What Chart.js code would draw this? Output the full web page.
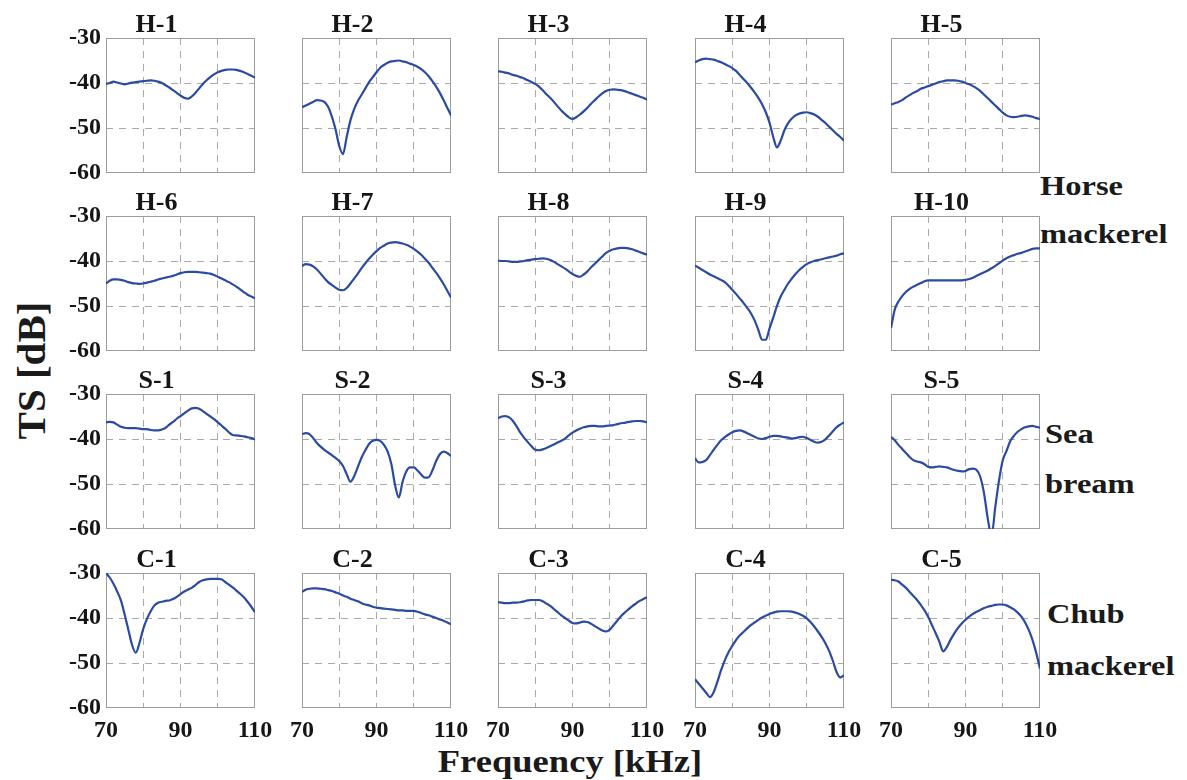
<!DOCTYPE html>
<html>
<head>
<meta charset="utf-8">
<script src="https://cdn.jsdelivr.net/npm/chart.js@4.4.1/dist/chart.umd.min.js"></script>
<style>
  html, body { margin: 0; padding: 0; background: #fff; }
  #fig { position: relative; width: 1187px; height: 780px; overflow: hidden;
         font-family: 'Liberation Serif', 'Times New Roman', serif; font-weight: bold; color: #1a1a1a; }
  #fig canvas { position: absolute; }
  .lbl { position: absolute; white-space: nowrap; line-height: 1; transform-origin: 0 0; }
</style>
</head>
<body>
<div id="fig">
  <div class="lbl" style="left:1040px;top:172px;font-size:28px;transform:scaleX(1.16)">Horse</div>
  <div class="lbl" style="left:1040px;top:220px;font-size:28px;transform:scaleX(1.16)">mackerel</div>
  <div class="lbl" style="left:1045px;top:420px;font-size:28px;transform:scaleX(1.16)">Sea</div>
  <div class="lbl" style="left:1045px;top:470px;font-size:28px;transform:scaleX(1.16)">bream</div>
  <div class="lbl" style="left:1047px;top:600px;font-size:28px;transform:scaleX(1.16)">Chub</div>
  <div class="lbl" style="left:1047px;top:652px;font-size:28px;transform:scaleX(1.16)">mackerel</div>
  <div class="lbl" style="left:270px;top:746px;width:600px;text-align:center;font-size:31px;transform-origin:50% 0;transform:scaleX(1.18)">Frequency [kHz]</div>
  <div class="lbl" style="left:-69px;top:350px;width:200px;text-align:center;font-size:41px;transform-origin:50% 50%;transform:rotate(-90deg)">TS [dB]</div>
</div>
<script>
// Frequency axis (kHz) shared by every panel
const FREQ = [70,71,72,73,74,75,76,77,78,79,80,81,82,83,84,85,86,87,88,89,90,
              91,92,93,94,95,96,97,98,99,100,101,102,103,104,105,106,107,108,109,110];

// Target strength (dB) per specimen — horse mackerel
const H1 = [-40.2,-40.0,-39.7,-39.9,-40.1,-40.3,-40.1,-39.9,-39.8,-39.7,-39.6,-39.5,-39.4,-39.5,-39.7,-40.0,-40.5,-41.0,-41.6,-42.2,-42.8,
            -43.3,-43.5,-43.0,-42.2,-41.2,-40.2,-39.4,-38.7,-38.1,-37.6,-37.3,-37.1,-37.0,-37.0,-37.1,-37.3,-37.6,-38.0,-38.4,-38.8];
const H2 = [-45.4,-45.0,-44.6,-44.2,-43.8,-43.9,-44.2,-45.3,-47.4,-50.3,-54.0,-55.8,-52.0,-48.3,-45.8,-44.0,-42.6,-41.2,-39.8,-38.7,-37.6,
            -36.6,-36.0,-35.5,-35.2,-35.1,-35.0,-35.2,-35.4,-35.7,-36.0,-36.4,-36.9,-37.6,-38.5,-39.6,-40.8,-42.2,-43.8,-45.5,-47.2];
const H3 = [-37.4,-37.5,-37.7,-37.9,-38.2,-38.4,-38.7,-39.0,-39.4,-39.8,-40.2,-40.8,-41.6,-42.5,-43.3,-44.2,-45.2,-46.1,-46.9,-47.6,-48.0,
            -47.6,-47.0,-46.3,-45.5,-44.6,-43.8,-43.0,-42.3,-41.8,-41.5,-41.4,-41.5,-41.6,-41.8,-42.1,-42.4,-42.7,-43.0,-43.3,-43.7];
const H4 = [-35.4,-35.0,-34.7,-34.6,-34.7,-34.8,-35.1,-35.4,-35.8,-36.2,-36.7,-37.3,-38.2,-39.1,-40.0,-41.0,-42.1,-43.3,-44.7,-46.5,-48.8,
            -52.0,-54.3,-52.8,-50.5,-48.9,-47.9,-47.2,-46.8,-46.6,-46.5,-46.7,-47.0,-47.5,-48.2,-48.9,-49.7,-50.5,-51.3,-52.0,-52.8];
const H5 = [-44.8,-44.5,-44.2,-43.8,-43.2,-42.7,-42.2,-41.8,-41.3,-41.0,-40.7,-40.4,-40.1,-39.8,-39.6,-39.4,-39.4,-39.4,-39.5,-39.7,-40.0,
            -40.3,-40.7,-41.2,-41.8,-42.6,-43.4,-44.2,-45.0,-45.8,-46.6,-47.2,-47.5,-47.6,-47.5,-47.3,-47.2,-47.3,-47.5,-47.8,-48.0];
const H6 = [-45.0,-44.4,-44.1,-44.1,-44.2,-44.4,-44.7,-44.9,-45.0,-45.1,-45.0,-44.8,-44.6,-44.4,-44.1,-43.9,-43.7,-43.5,-43.3,-43.0,-42.7,
            -42.5,-42.4,-42.4,-42.4,-42.5,-42.6,-42.7,-42.8,-43.1,-43.5,-43.9,-44.3,-44.7,-45.2,-45.7,-46.3,-46.9,-47.5,-47.9,-48.3];
const H7 = [-41.1,-40.7,-40.8,-41.2,-41.9,-42.8,-43.8,-44.7,-45.3,-45.9,-46.4,-46.5,-46.0,-45.0,-43.9,-42.8,-41.6,-40.5,-39.5,-38.6,-37.8,
            -37.1,-36.6,-36.1,-35.9,-35.8,-35.9,-36.1,-36.4,-36.8,-37.3,-37.9,-38.6,-39.5,-40.4,-41.5,-42.6,-43.8,-45.1,-46.6,-48.1];
const H8 = [-39.9,-40.0,-40.0,-40.1,-40.2,-40.2,-40.1,-40.0,-39.8,-39.7,-39.6,-39.5,-39.4,-39.5,-39.8,-40.2,-40.7,-41.2,-41.7,-42.3,-42.9,
            -43.3,-43.5,-43.0,-42.3,-41.4,-40.6,-39.8,-39.0,-38.2,-37.7,-37.4,-37.2,-37.1,-37.1,-37.2,-37.4,-37.7,-38.0,-38.3,-38.6];
const H9 = [-41.0,-41.5,-42.0,-42.5,-43.0,-43.4,-43.8,-44.2,-44.7,-45.5,-46.4,-47.3,-48.3,-49.3,-50.4,-51.6,-53.2,-55.3,-57.5,-57.5,-55.0,
            -52.6,-50.0,-47.9,-46.4,-45.0,-43.9,-42.9,-42.0,-41.3,-40.7,-40.3,-40.0,-39.8,-39.6,-39.4,-39.2,-39.0,-38.8,-38.5,-38.3];
const H10 = [-54.9,-50.8,-49.0,-47.8,-46.9,-46.2,-45.7,-45.3,-44.9,-44.5,-44.3,-44.3,-44.3,-44.3,-44.3,-44.3,-44.3,-44.3,-44.3,-44.3,-44.2,
             -44.0,-43.7,-43.3,-42.9,-42.5,-42.1,-41.6,-41.1,-40.5,-39.9,-39.4,-39.0,-38.7,-38.4,-38.2,-37.9,-37.6,-37.3,-37.2,-37.2];

// Sea bream
const S1 = [-36.3,-36.2,-36.3,-36.8,-37.3,-37.5,-37.6,-37.6,-37.6,-37.7,-37.8,-37.8,-38.0,-38.1,-38.1,-37.9,-37.5,-36.8,-36.2,-35.5,-34.9,
            -34.3,-33.7,-33.2,-33.1,-33.3,-33.8,-34.4,-35.0,-35.6,-36.3,-37.0,-37.7,-38.5,-39.1,-39.2,-39.3,-39.4,-39.6,-39.8,-40.1];
const S2 = [-38.9,-38.7,-38.9,-39.8,-40.9,-41.7,-42.4,-43.0,-43.6,-44.2,-44.9,-46.0,-47.8,-49.5,-48.3,-46.2,-44.1,-42.5,-41.1,-40.4,-40.2,
            -40.4,-41.3,-42.8,-45.6,-50.3,-53.0,-49.5,-47.2,-46.3,-46.3,-47.0,-47.9,-48.6,-48.5,-47.0,-44.9,-43.4,-42.8,-43.1,-43.8];
const S3 = [-35.4,-35.0,-34.9,-35.2,-36.0,-37.2,-38.6,-39.7,-40.7,-41.6,-42.4,-42.5,-42.3,-42.0,-41.6,-41.2,-40.8,-40.4,-39.9,-39.2,-38.6,
            -38.1,-37.7,-37.4,-37.2,-37.1,-37.1,-37.2,-37.2,-37.1,-37.0,-36.9,-36.7,-36.5,-36.4,-36.2,-36.1,-36.0,-36.0,-36.1,-36.3];
const S4 = [-44.3,-45.2,-45.1,-44.7,-43.6,-42.4,-41.3,-40.3,-39.6,-39.0,-38.5,-38.2,-38.1,-38.3,-38.7,-39.1,-39.5,-39.9,-40.0,-39.8,-39.5,
            -39.3,-39.3,-39.4,-39.6,-39.7,-39.9,-39.8,-39.6,-39.5,-39.8,-40.2,-40.6,-40.8,-40.6,-40.1,-39.2,-38.3,-37.4,-36.8,-36.3];
const S5 = [-39.5,-40.3,-41.3,-42.2,-43.1,-44.0,-44.7,-45.0,-45.2,-45.6,-46.2,-46.3,-46.2,-46.1,-46.2,-46.3,-46.6,-46.9,-47.1,-47.2,-47.1,
            -46.7,-46.6,-46.9,-48.5,-52.2,-57.8,-61.5,-55.1,-49.2,-44.7,-42.7,-40.5,-39.3,-38.4,-37.8,-37.4,-37.2,-37.1,-37.3,-37.5];

// Chub mackerel
const C1 = [-30.0,-31.0,-32.4,-34.1,-36.1,-39.2,-42.6,-46.0,-47.7,-45.5,-42.4,-40.2,-38.5,-37.2,-36.6,-36.4,-36.2,-36.1,-35.8,-35.3,-34.7,
            -34.1,-33.7,-33.3,-32.7,-32.0,-31.6,-31.4,-31.3,-31.3,-31.3,-31.4,-32.0,-32.6,-33.2,-33.9,-34.6,-35.4,-36.4,-37.5,-38.7];
const C2 = [-34.2,-33.7,-33.5,-33.4,-33.4,-33.5,-33.6,-33.8,-34.0,-34.3,-34.6,-35.0,-35.3,-35.7,-36.0,-36.3,-36.7,-37.0,-37.2,-37.5,-37.7,
            -37.8,-37.9,-38.0,-38.1,-38.2,-38.3,-38.3,-38.4,-38.4,-38.4,-38.6,-38.9,-39.2,-39.4,-39.7,-40.0,-40.3,-40.6,-41.0,-41.4];
const C3 = [-36.5,-36.6,-36.7,-36.7,-36.6,-36.6,-36.5,-36.3,-36.1,-36.0,-36.0,-36.0,-36.3,-36.8,-37.3,-38.0,-38.7,-39.4,-40.0,-40.6,-41.1,
            -41.2,-41.0,-40.8,-40.9,-41.3,-41.8,-42.3,-42.8,-43.0,-42.6,-41.6,-40.6,-39.6,-38.8,-38.1,-37.4,-36.8,-36.2,-35.8,-35.4];
const C4 = [-53.6,-54.6,-55.6,-56.6,-57.6,-56.5,-54.2,-51.6,-49.4,-47.6,-46.2,-44.9,-43.9,-43.1,-42.3,-41.6,-41.0,-40.4,-39.9,-39.5,-39.1,
            -38.8,-38.6,-38.5,-38.5,-38.5,-38.6,-38.8,-39.1,-39.5,-40.1,-40.9,-41.9,-43.0,-44.2,-45.6,-47.3,-49.5,-52.0,-53.2,-52.7];
const C5 = [-31.5,-31.6,-31.9,-32.6,-33.3,-34.2,-35.1,-36.0,-37.1,-38.3,-39.8,-41.6,-43.4,-45.3,-47.4,-46.4,-44.8,-43.4,-42.2,-41.2,-40.4,
            -39.7,-39.1,-38.6,-38.2,-37.8,-37.5,-37.3,-37.1,-37.0,-37.0,-37.2,-37.6,-38.1,-38.8,-39.7,-41.0,-42.7,-44.9,-47.8,-51.3];

// Panel order, row by row
const PANELS = [
  ['H-1', H1], ['H-2', H2], ['H-3', H3], ['H-4', H4], ['H-5', H5],
  ['H-6', H6], ['H-7', H7], ['H-8', H8], ['H-9', H9], ['H-10', H10],
  ['S-1', S1], ['S-2', S2], ['S-3', S3], ['S-4', S4], ['S-5', S5],
  ['C-1', C1], ['C-2', C2], ['C-3', C3], ['C-4', C4], ['C-5', C5]
];

// Axis ranges and ticks
const X_MIN = 70, X_MAX = 110, X_STEP = 10;
const Y_MIN = -60, Y_MAX = -30, Y_STEP = 10;
const X_LABELED = [70, 90, 110];

// Grid geometry (px): plot-area corners, plus margins around each plot
const COL_LEFT = [106, 302, 498, 695, 891];
const ROW_TOP = [38, 216, 394, 573];
const PW = 149, PH = 135;
const L = 48, R = 30, T = 40, B = 40;

const LINE_COLOR = '#2b4ba3';
const GRID_COLOR = '#a9a9a9';
const FRAME_COLOR = '#9c9c9c';
const TEXT_COLOR = '#151515';
const FONT = "'Liberation Serif', 'Times New Roman', serif";

// Solid box around each plot area, drawn under the curve
const panelFrame = {
  id: 'panelFrame',
  beforeDatasetsDraw(chart) {
    const { ctx, chartArea: a } = chart;
    ctx.save();
    ctx.strokeStyle = FRAME_COLOR;
    ctx.lineWidth = 1;
    ctx.setLineDash([]);
    ctx.strokeRect(a.left + 0.5, a.top + 0.5, a.right - a.left - 1, a.bottom - a.top - 1);
    ctx.restore();
  }
};

const fig = document.getElementById('fig');

// Dashed grid only inside the box; the edges are drawn by panelFrame
function gridColor(edgeA, edgeB) {
  return (c) => (c.tick && (c.tick.value === edgeA || c.tick.value === edgeB)) ? 'rgba(0,0,0,0)' : GRID_COLOR;
}

PANELS.forEach(([title, values], idx) => {
  const r = Math.floor(idx / 5), c = idx % 5;
  const w = L + PW + R, h = T + PH + B;
  const cv = document.createElement('canvas');
  cv.width = w; cv.height = h;
  cv.style.left = (COL_LEFT[c] - L) + 'px';
  cv.style.top = (ROW_TOP[r] - T) + 'px';
  cv.style.width = w + 'px';
  cv.style.height = h + 'px';
  fig.appendChild(cv);

  new Chart(cv, {
    type: 'line',
    data: {
      datasets: [{
        data: FREQ.map((f, i) => ({ x: f, y: values[i] })),
        borderColor: LINE_COLOR,
        borderWidth: 2.2,
        pointRadius: 0,
        cubicInterpolationMode: 'monotone',
        fill: false,
        clip: 0
      }]
    },
    options: {
      responsive: false,
      animation: false,
      devicePixelRatio: 1,
      events: [],
      layout: { padding: { left: 0, right: R, top: 0, bottom: 0 }, autoPadding: false },
      plugins: {
        legend: { display: false },
        tooltip: { enabled: false },
        title: {
          display: true,
          text: title,
          color: TEXT_COLOR,
          font: { family: FONT, weight: 'bold', size: 26, lineHeight: 1 },
          padding: { top: 14, bottom: 0 }
        }
      },
      scales: {
        x: {
          type: 'linear',
          min: X_MIN, max: X_MAX,
          afterFit(s) { s.height = B; },
          ticks: {
            display: r === 3,
            stepSize: X_STEP,
            autoSkip: false,
            maxRotation: 0,
            padding: 8,
            color: TEXT_COLOR,
            font: { family: FONT, weight: 'bold', size: 24 },
            callback: (v) => X_LABELED.includes(v) ? String(v) : ''
          },
          grid: { color: gridColor(X_MIN, X_MAX), lineWidth: 1, drawTicks: false },
          border: { display: false, dash: [7, 6] }
        },
        y: {
          type: 'linear',
          min: Y_MIN, max: Y_MAX,
          afterFit(s) { s.width = L; },
          ticks: {
            display: c === 0,
            stepSize: Y_STEP,
            padding: 5,
            color: TEXT_COLOR,
            font: { family: FONT, weight: 'bold', size: 24 }
          },
          grid: { color: gridColor(Y_MIN, Y_MAX), lineWidth: 1, drawTicks: false },
          border: { display: false, dash: [7, 6] }
        }
      }
    },
    plugins: [panelFrame]
  });
});
</script>
</body>
</html>
